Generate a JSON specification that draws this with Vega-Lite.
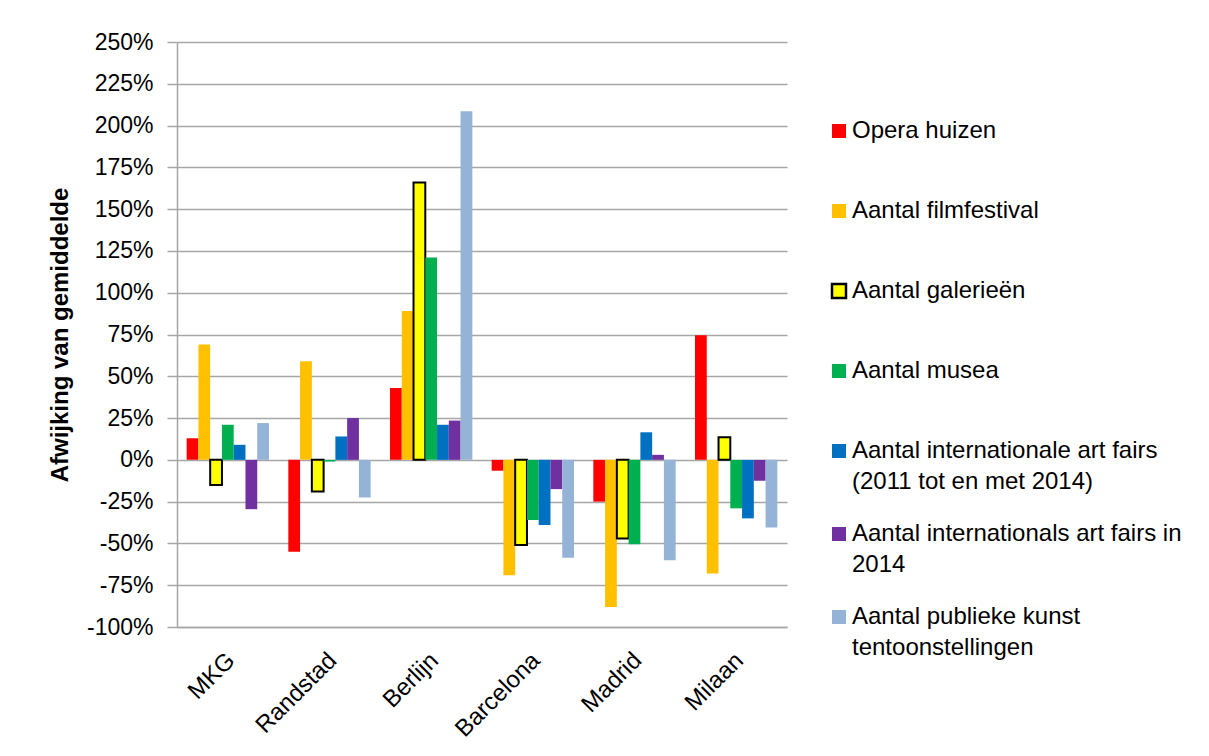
{
  "$schema": "https://vega.github.io/schema/vega-lite/v6.json",
  "width": 610,
  "height": 585,
  "autosize": {"type": "none"},
  "padding": {"left": 177, "top": 42, "right": 422, "bottom": 129},
  "background": "white",
  "config": {
    "font": "Liberation Sans",
    "view": {"stroke": null},
    "axis": {"labelColor": "#000000", "titleColor": "#000000", "labelFont": "Liberation Sans", "titleFont": "Liberation Sans"},
    "legend": {"labelFont": "Liberation Sans", "labelColor": "#000000"}
  },
  "data": {
    "values": [
      {"city": "MKG", "series": "Opera huizen", "value": 13},
      {"city": "MKG", "series": "Aantal filmfestival", "value": 69},
      {"city": "MKG", "series": "Aantal galerieën", "value": -15},
      {"city": "MKG", "series": "Aantal musea", "value": 21},
      {"city": "MKG", "series": "Aantal internationale art fairs (2011 tot en met 2014)", "value": 9},
      {"city": "MKG", "series": "Aantal internationals art fairs in 2014", "value": -29.5},
      {"city": "MKG", "series": "Aantal publieke kunst tentoonstellingen", "value": 22},
      {"city": "Randstad", "series": "Opera huizen", "value": -55},
      {"city": "Randstad", "series": "Aantal filmfestival", "value": 59},
      {"city": "Randstad", "series": "Aantal galerieën", "value": -19},
      {"city": "Randstad", "series": "Aantal musea", "value": -1},
      {"city": "Randstad", "series": "Aantal internationale art fairs (2011 tot en met 2014)", "value": 14},
      {"city": "Randstad", "series": "Aantal internationals art fairs in 2014", "value": 25},
      {"city": "Randstad", "series": "Aantal publieke kunst tentoonstellingen", "value": -22.5},
      {"city": "Berlijn", "series": "Opera huizen", "value": 43},
      {"city": "Berlijn", "series": "Aantal filmfestival", "value": 89},
      {"city": "Berlijn", "series": "Aantal galerieën", "value": 166},
      {"city": "Berlijn", "series": "Aantal musea", "value": 121},
      {"city": "Berlijn", "series": "Aantal internationale art fairs (2011 tot en met 2014)", "value": 21},
      {"city": "Berlijn", "series": "Aantal internationals art fairs in 2014", "value": 23.5},
      {"city": "Berlijn", "series": "Aantal publieke kunst tentoonstellingen", "value": 208.5},
      {"city": "Barcelona", "series": "Opera huizen", "value": -6.5},
      {"city": "Barcelona", "series": "Aantal filmfestival", "value": -69},
      {"city": "Barcelona", "series": "Aantal galerieën", "value": -51},
      {"city": "Barcelona", "series": "Aantal musea", "value": -36},
      {"city": "Barcelona", "series": "Aantal internationale art fairs (2011 tot en met 2014)", "value": -39},
      {"city": "Barcelona", "series": "Aantal internationals art fairs in 2014", "value": -17.5},
      {"city": "Barcelona", "series": "Aantal publieke kunst tentoonstellingen", "value": -58.5},
      {"city": "Madrid", "series": "Opera huizen", "value": -25},
      {"city": "Madrid", "series": "Aantal filmfestival", "value": -88},
      {"city": "Madrid", "series": "Aantal galerieën", "value": -47},
      {"city": "Madrid", "series": "Aantal musea", "value": -50.5},
      {"city": "Madrid", "series": "Aantal internationale art fairs (2011 tot en met 2014)", "value": 16.5},
      {"city": "Madrid", "series": "Aantal internationals art fairs in 2014", "value": 3},
      {"city": "Madrid", "series": "Aantal publieke kunst tentoonstellingen", "value": -60},
      {"city": "Milaan", "series": "Opera huizen", "value": 74.5},
      {"city": "Milaan", "series": "Aantal filmfestival", "value": -68},
      {"city": "Milaan", "series": "Aantal galerieën", "value": 13.5},
      {"city": "Milaan", "series": "Aantal musea", "value": -29},
      {"city": "Milaan", "series": "Aantal internationale art fairs (2011 tot en met 2014)", "value": -35},
      {"city": "Milaan", "series": "Aantal internationals art fairs in 2014", "value": -12.5},
      {"city": "Milaan", "series": "Aantal publieke kunst tentoonstellingen", "value": -40.5}
    ]
  },
  "mark": {"type": "bar", "strokeWidth": 2, "strokeJoin": "miter"},
  "encoding": {
    "x": {
      "field": "city",
      "type": "nominal",
      "sort": ["MKG", "Randstad", "Berlijn", "Barcelona", "Madrid", "Milaan"],
      "scale": {"paddingInner": 0.19, "paddingOuter": 0.095},
      "axis": {
        "title": null,
        "labelAngle": -45,
        "labelFontSize": 24,
        "labelPadding": 21,
        "labelOffset": -5,
        "ticks": false,
        "domain": true,
        "domainColor": "#A6A6A6",
        "domainWidth": 1.5,
        "grid": false
      }
    },
    "xOffset": {
      "field": "series",
      "type": "nominal",
      "sort": ["Opera huizen", "Aantal filmfestival", "Aantal galerieën", "Aantal musea", "Aantal internationale art fairs (2011 tot en met 2014)", "Aantal internationals art fairs in 2014", "Aantal publieke kunst tentoonstellingen"],
      "scale": {"paddingInner": 0, "paddingOuter": 0}
    },
    "y": {
      "field": "value",
      "type": "quantitative",
      "scale": {"domain": [-100, 250], "nice": false, "zero": false},
      "axis": {
        "title": "Afwijking van gemiddelde",
        "titleFontSize": 24,
        "titleFontWeight": "bold",
        "titlePadding": 14,
        "values": [-100, -75, -50, -25, 0, 25, 50, 75, 100, 125, 150, 175, 200, 225, 250],
        "labelExpr": "datum.value + '%'",
        "labelFontSize": 23,
        "labelPadding": 14,
        "tickSize": 10,
        "tickColor": "#A6A6A6",
        "tickWidth": 1.5,
        "domainColor": "#A6A6A6",
        "domainWidth": 1.5,
        "grid": true,
        "gridColor": "#A6A6A6",
        "gridWidth": 1.5
      }
    },
    "color": {
      "field": "series",
      "type": "nominal",
      "scale": {
        "domain": ["Opera huizen", "Aantal filmfestival", "Aantal galerieën", "Aantal musea", "Aantal internationale art fairs (2011 tot en met 2014)", "Aantal internationals art fairs in 2014", "Aantal publieke kunst tentoonstellingen"],
        "range": ["#FF0000", "#FFC000", "#FFFF00", "#00B050", "#0070C0", "#7030A0", "#95B3D7"]
      },
      "legend": {
        "title": null,
        "orient": "none",
        "legendX": 650,
        "legendY": 49,
        "padding": 0,
        "symbolType": "square",
        "symbolSize": 196,
        "symbolStrokeWidth": 2.5,
        "labelFontSize": 24,
        "labelOffset": 1,
        "labelLimit": 500,
        "clipHeight": 80,
        "rowPadding": 0,
        "labelExpr": "datum.label == 'Aantal internationale art fairs (2011 tot en met 2014)' ? ['Aantal internationale art fairs', '(2011 tot en met 2014)'] : datum.label == 'Aantal internationals art fairs in 2014' ? ['Aantal internationals art fairs in', '2014'] : datum.label == 'Aantal publieke kunst tentoonstellingen' ? ['Aantal publieke kunst', 'tentoonstellingen'] : datum.label",
        "encoding": {"labels": {"lineHeight": {"value": 31}}}
      }
    },
    "stroke": {
      "field": "series",
      "type": "nominal",
      "scale": {
        "domain": ["Opera huizen", "Aantal filmfestival", "Aantal galerieën", "Aantal musea", "Aantal internationale art fairs (2011 tot en met 2014)", "Aantal internationals art fairs in 2014", "Aantal publieke kunst tentoonstellingen"],
        "range": ["transparent", "transparent", "#000000", "transparent", "transparent", "transparent", "transparent"]
      },
      "legend": {
        "title": null,
        "orient": "none",
        "legendX": 650,
        "legendY": 49,
        "padding": 0,
        "symbolType": "square",
        "symbolSize": 196,
        "symbolStrokeWidth": 2.5,
        "labelFontSize": 24,
        "labelOffset": 1,
        "labelLimit": 500,
        "clipHeight": 80,
        "rowPadding": 0,
        "labelExpr": "datum.label == 'Aantal internationale art fairs (2011 tot en met 2014)' ? ['Aantal internationale art fairs', '(2011 tot en met 2014)'] : datum.label == 'Aantal internationals art fairs in 2014' ? ['Aantal internationals art fairs in', '2014'] : datum.label == 'Aantal publieke kunst tentoonstellingen' ? ['Aantal publieke kunst', 'tentoonstellingen'] : datum.label",
        "encoding": {"labels": {"lineHeight": {"value": 31}}}
      }
    }
  }
}
